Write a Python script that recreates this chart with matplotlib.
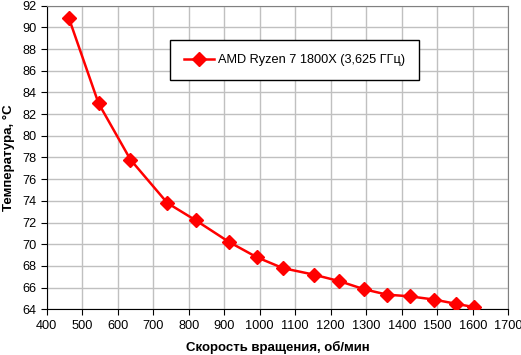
import matplotlib.pyplot as plt

# Fan speed (rpm) and CPU temperature (°C)
rpm = [462, 546, 636, 740, 820, 914, 992, 1065, 1152, 1224, 1294, 1359, 1422, 1491, 1554, 1604]
temp = [90.9, 83.0, 77.8, 73.8, 72.2, 70.2, 68.8, 67.8, 67.2, 66.6, 65.85, 65.35, 65.2, 64.9, 64.5, 64.2]
series_label = 'AMD Ryzen 7 1800X (3,625 ГГц)'

plt.rcParams['font.family'] = ['Liberation Sans', 'DejaVu Sans']

fig = plt.figure(figsize=(5.21, 3.55), dpi=100)
ax = fig.add_axes([0.0896, 0.1287, 0.886, 0.8553])

ax.plot(rpm, temp, color='#ff0000', lw=1.8, marker='D', ms=7,
        markeredgecolor='#ff0000', label=series_label, zorder=3)

ax.set_xlim(400, 1700)
ax.set_ylim(64, 92)
ax.set_xticks(range(400, 1701, 100))
ax.set_yticks(range(64, 93, 2))
ax.grid(True, color='#c0c0c0', lw=1)
ax.set_axisbelow(True)

for s in ['top', 'right']:
    ax.spines[s].set_color('#808080')
ax.spines['left'].set_color('black')
ax.spines['bottom'].set_color('black')
ax.tick_params(direction='out', length=4, labelsize=9.2, colors='black')

ax.set_xlabel('Скорость вращения, об/мин', fontsize=9.5, fontweight='bold', labelpad=7)
ax.set_ylabel('Температура, °C', fontsize=9.5, fontweight='bold', labelpad=5)

leg = ax.legend(loc='upper left', bbox_to_anchor=(0.268, 0.887), fontsize=9.2,
                frameon=True, fancybox=False, edgecolor='black', framealpha=1,
                borderpad=1.1, borderaxespad=0, handlelength=2.3, handletextpad=0.3)
leg.get_frame().set_linewidth(1)

fig.savefig('out.png', dpi=100)
